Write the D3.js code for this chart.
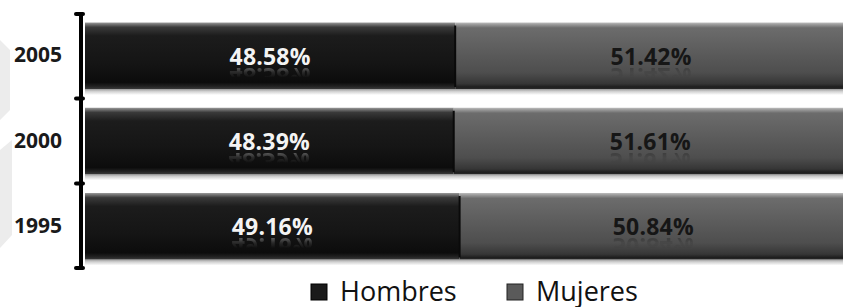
<!DOCTYPE html>
<html>
<head>
<meta charset="utf-8">
<script src="https://cdn.jsdelivr.net/npm/d3@7"></script>
<style>
  html, body { margin: 0; padding: 0; background: #fff; }
  svg { display: block; }
</style>
</head>
<body>
<svg id="chart" width="843" height="307"></svg>
<script>
// values
const years = ['2005', '2000', '1995'];
const hombres = [48.58, 48.39, 49.16];
const mujeres = [51.42, 51.61, 50.84];
const seriesNames = ['Hombres', 'Mujeres'];

const width = 843, height = 307;
const svg = d3.select('#chart');
const defs = svg.append('defs');

const x = d3.scaleLinear().domain([0, 100]).range([85, 847]);
const y = d3.scaleBand().domain(years).range([14, 268]).paddingInner(0.22).paddingOuter(0.1);

function vGrad (id, stops) {
    const g = defs.append('linearGradient').attr('id', id)
        .attr('x1', 0).attr('y1', 0).attr('x2', 0).attr('y2', 1);
    stops.forEach(function (s) {
        g.append('stop').attr('offset', s[0]).attr('stop-color', s[1]);
    });
    return g;
}
vGrad('gDark', [[0, '#9a9a9a'], [0.03, '#6e6e6e'], [0.07, '#3a3a3a'], [0.2, '#1c1c1c'], [0.6, '#151515'], [0.9, '#0c0c0c'], [0.96, '#222'], [1, '#3a3a3a']]);
vGrad('gLight', [[0, '#bdbdbd'], [0.03, '#9a9a9a'], [0.08, '#6c6c6c'], [0.3, '#626262'], [0.75, '#4e4e4e'], [0.92, '#363636'], [0.97, '#1e1e1e'], [1, '#2a2a2a']]);
vGrad('gShadow', [[0, '#9a9a9a'], [0.4, '#d0d0d0'], [1, '#ffffff']]);
vGrad('gFade', [[0, '#ffffff'], [0.5, '#555555'], [1, '#000000']]);

// faint watermark shape on the left edge
svg.append('path')
    .attr('d', 'M0,40 L10,50 L10,110 L0,120 Z M0,150 L12,140 L12,235 L0,248 Z')
    .attr('fill', '#ececec');

const rows = years.map(function (yr, i) {
    return {year: yr, segs: [
        {name: seriesNames[0], x0: 0, x1: hombres[i], v: hombres[i]},
        {name: seriesNames[1], x0: hombres[i], x1: hombres[i] + mujeres[i], v: mujeres[i]}
    ]};
});

const labelY = function (yr) { return y(yr) + y.bandwidth() / 2 + 9; };

// soft shadows under bars
svg.selectAll('.shadow')
    .data(rows)
    .enter()
    .append('rect')
    .attr('x', x(0))
    .attr('y', function (d) { return y(d.year) + y.bandwidth(); })
    .attr('width', x(100) - x(0))
    .attr('height', 6)
    .attr('fill', 'url(#gShadow)');

const g = svg.selectAll('.row')
    .data(rows)
    .enter()
    .append('g')
    .attr('class', 'row');

// reflection mask: fades out below each label's baseline
g.each(function (d, i) {
    const by = labelY(d.year);
    defs.append('mask').attr('id', 'mask' + i)
        .attr('maskUnits', 'userSpaceOnUse')
        .attr('x', x(0)).attr('y', 0).attr('width', x(100) - x(0)).attr('height', height)
        .append('rect')
        .attr('x', x(0)).attr('y', by + 2)
        .attr('width', x(100) - x(0)).attr('height', 11)
        .attr('fill', 'url(#gFade)');
});

g.selectAll('rect.seg')
    .data(function (d) { return d.segs.map(function (s) { return Object.assign({year: d.year}, s); }); })
    .enter()
    .append('rect')
    .attr('class', 'seg')
    .attr('x', function (d) { return x(d.x0); })
    .attr('y', function (d) { return y(d.year); })
    .attr('width', function (d) { return x(d.x1) - x(d.x0); })
    .attr('height', y.bandwidth())
    .attr('fill', function (d, i) { return i === 0 ? 'url(#gDark)' : 'url(#gLight)'; });

// bevel at the split
g.append('line')
    .attr('x1', function (d) { return x(d.segs[0].x1); })
    .attr('x2', function (d) { return x(d.segs[0].x1); })
    .attr('y1', function (d) { return y(d.year) + 3; })
    .attr('y2', function (d) { return y(d.year) + y.bandwidth() - 2; })
    .attr('stroke', '#0a0a0a')
    .attr('stroke-width', 2);

function labelText (sel, mirror) {
    sel.selectAll(mirror ? 'text.refl' : 'text.lab')
        .data(function (d) { return d.segs.map(function (s) { return Object.assign({year: d.year}, s); }); })
        .enter()
        .append('text')
        .attr('class', mirror ? 'refl' : 'lab')
        .attr('transform', function (d) {
            const cx = (x(d.x0) + x(d.x1)) / 2;
            const by = labelY(d.year);
            return mirror ? 'translate(' + cx + ',' + (by + 3) + ') scale(1,-1)' : 'translate(' + cx + ',' + by + ')';
        })
        .attr('text-anchor', 'middle')
        .style('font-family', '"Open Sans", sans-serif')
        .style('font-weight', 'bold')
        .style('font-size', '23px')
        .style('letter-spacing', '0.2px')
        .style('fill', function (d, i) { return i === 0 ? '#f4f4f4' : '#161616'; })
        .style('opacity', mirror ? 0.35 : 1)
        .text(function (d) { return d.v.toFixed(2) + '%'; });
}
g.each(function (d, i) {
    const row = d3.select(this);
    const refl = row.append('g').attr('mask', 'url(#mask' + i + ')');
    labelText(refl, true);
    labelText(row, false);
});

// category axis
const axis = d3.axisLeft(y).tickSize(0).tickPadding(19);
const ax = svg.append('g')
    .attr('transform', 'translate(81,0)')
    .call(axis);
ax.select('.domain').remove();
ax.selectAll('text')
    .style('font-family', '"Open Sans", sans-serif')
    .style('font-weight', 'bold')
    .style('font-size', '21px')
    .style('fill', '#1a1a1a');

svg.append('line')
    .attr('x1', 81).attr('x2', 81)
    .attr('y1', y.range()[0]).attr('y2', y.range()[1])
    .attr('stroke', '#000').attr('stroke-width', 4);

const bounds = [y.range()[0]].concat(years.slice(1).map(function (yr) {
    return y(yr) - y.step() * y.paddingInner() / 2;
})).concat([y.range()[1]]);
svg.selectAll('.tick-mark')
    .data(bounds)
    .enter()
    .append('line')
    .attr('x1', 76).attr('x2', 83)
    .attr('y1', function (d) { return d; })
    .attr('y2', function (d) { return d; })
    .attr('stroke', '#000').attr('stroke-width', 4)
    .attr('stroke-linecap', 'round');

// legend
const legendX = [311, 507];
const legend = svg.selectAll('.legend')
    .data(seriesNames)
    .enter()
    .append('g')
    .attr('transform', function (d, i) { return 'translate(' + legendX[i] + ',284)'; });
legend.append('rect')
    .attr('width', 16).attr('height', 16)
    .attr('fill', function (d, i) { return i === 0 ? '#1a1a1a' : '#5a5a5a'; })
    .attr('stroke', function (d, i) { return i === 0 ? '#000' : '#222'; })
    .attr('stroke-width', 1);
legend.append('text')
    .attr('x', 29).attr('y', 17)
    .style('font-family', '"Open Sans", sans-serif')
    .style('font-size', '27px')
    .style('fill', '#111')
    .text(function (d) { return d; });
</script>
</body>
</html>
